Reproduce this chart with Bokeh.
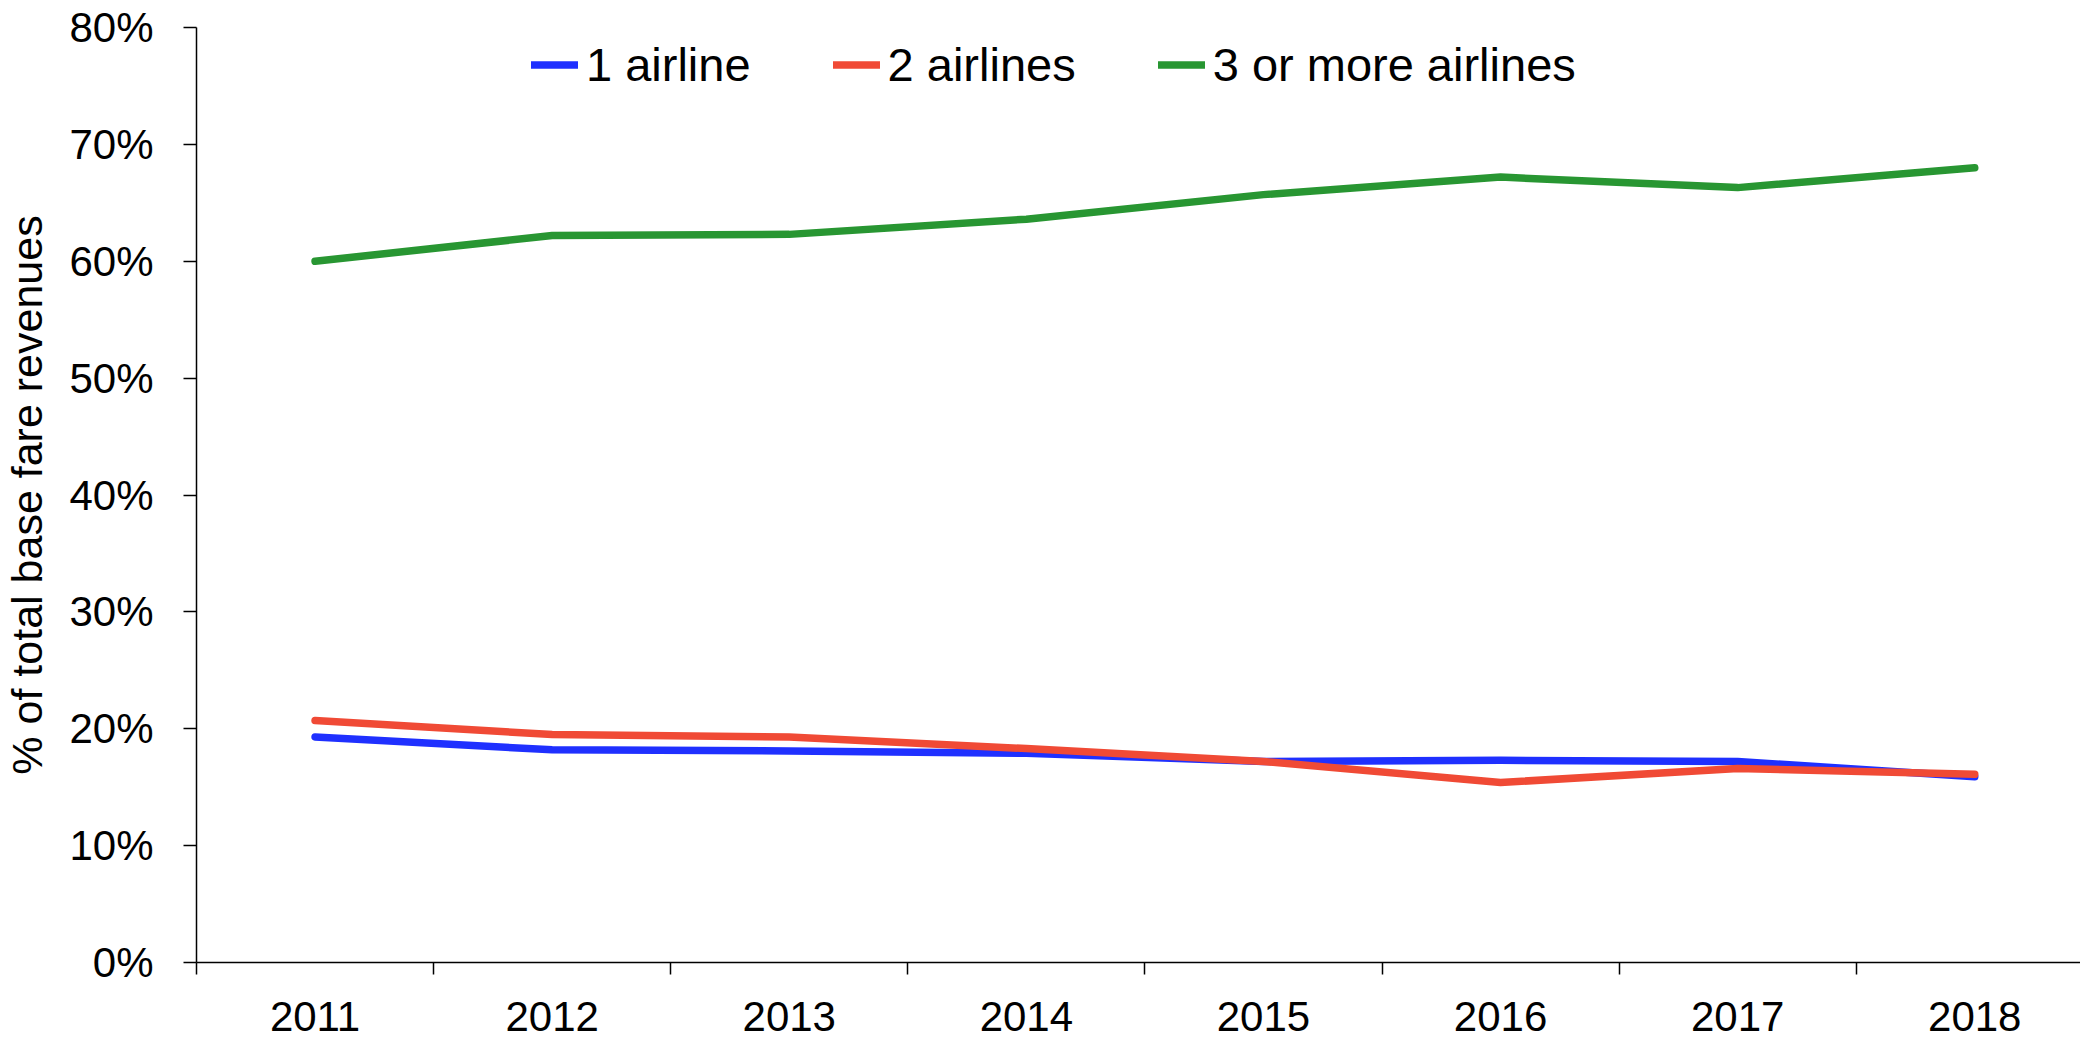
from bokeh.plotting import figure
from bokeh.models import Range1d, FixedTicker, PrintfTickFormatter, Legend, LegendItem
from bokeh.embed import file_html
from bokeh.resources import INLINE

years = [2011, 2012, 2013, 2014, 2015, 2016, 2017, 2018]
one_airline = [19.3, 18.2, 18.1, 17.9, 17.2, 17.3, 17.2, 15.9]
two_airlines = [20.7, 19.5, 19.3, 18.3, 17.2, 15.4, 16.6, 16.1]
three_plus = [60.0, 62.2, 62.3, 63.6, 65.7, 67.2, 66.3, 68.0]
series_names = ["1 airline", "2 airlines", "3 or more airlines"]
series_colors = ["#1f30ff", "#f04a35", "#289632"]
y_ticks = [0, 10, 20, 30, 40, 50, 60, 70, 80]

W, H = 2080, 1040
LEFT, TOP, BOTTOM = 196, 27, 78
band = 237.1
frame_w = W - LEFT
x_start = years[0] - 0.5
x_end = x_start + frame_w / band

p = figure(width=W, height=H, output_backend="svg", toolbar_location=None,
           x_range=Range1d(x_start, x_end), y_range=Range1d(0, 80),
           min_border_left=LEFT, min_border_top=TOP, min_border_bottom=BOTTOM,
           min_border_right=0)
p.outline_line_color = None
p.xgrid.visible = False
p.ygrid.visible = False
p.background_fill_color = "white"
p.border_fill_color = "white"

font = "Liberation Sans"
renderers = []
for vals, col in zip([one_airline, two_airlines, three_plus], series_colors):
    r = p.line(years, vals, line_color=col, line_width=7.5, line_cap="round", line_join="round")
    renderers.append(r)

# x axis: labels at centres, tick marks at category boundaries
xa = p.xaxis[0]
xa.ticker = FixedTicker(ticks=years, minor_ticks=[y - 0.5 for y in years])
xa.major_tick_out = 0
xa.major_tick_in = 0
xa.minor_tick_out = 12
xa.minor_tick_in = 0
xa.minor_tick_line_color = "black"
xa.minor_tick_line_width = 1.5
xa.axis_line_color = "black"
xa.axis_line_width = 1.5
xa.major_label_text_font = font
xa.major_label_text_font_size = "42px"
xa.major_label_text_color = "black"
xa.major_label_standoff = 27

ya = p.yaxis[0]
ya.ticker = FixedTicker(ticks=y_ticks)
ya.formatter = PrintfTickFormatter(format="%d%%")
ya.major_tick_out = 13
ya.major_tick_in = 0
ya.minor_tick_out = 0
ya.minor_tick_in = 0
ya.major_tick_line_color = "black"
ya.major_tick_line_width = 1.5
ya.axis_line_color = "black"
ya.axis_line_width = 1.5
ya.major_label_text_font = font
ya.major_label_text_font_size = "42px"
ya.major_label_text_color = "black"
ya.major_label_standoff = 30
ya.axis_label = "% of total base fare revenues"
ya.axis_label_text_font = font
ya.axis_label_text_font_style = "normal"
ya.axis_label_text_font_size = "43px"
ya.axis_label_text_color = "black"
ya.axis_label_standoff = 15

legend = Legend(items=[LegendItem(label=n, renderers=[r]) for n, r in zip(series_names, renderers)],
                orientation="horizontal", location=(335, 870),
                label_text_font=font, label_text_font_size="47px",
                label_text_color="black", glyph_width=47, glyph_height=47,
                label_standoff=8, spacing=82, padding=0, margin=0,
                border_line_color=None, background_fill_alpha=0)
p.add_layout(legend, "center")

open("out.html", "w").write(file_html(p, INLINE))
